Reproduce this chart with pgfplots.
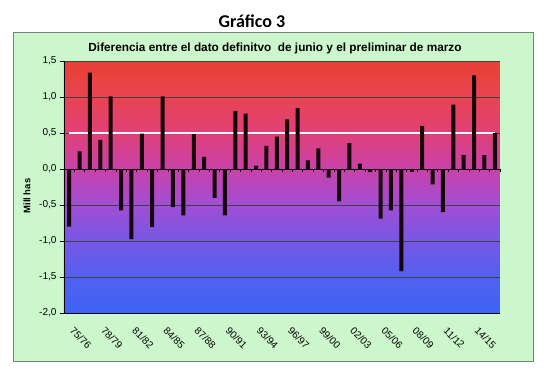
\documentclass[border=0pt]{standalone}
\usepackage{pgfplots}
\pgfplotsset{compat=1.18}
\usepackage{fontspec}
\setmainfont{Liberation Sans}
\newfontfamily\calibri{Carlito}
\definecolor{c0}{RGB}{62,100,245}
\definecolor{c1}{RGB}{82,96,240}
\definecolor{c2}{RGB}{118,88,228}
\definecolor{c3}{RGB}{160,78,212}
\definecolor{c4}{RGB}{200,66,170}
\definecolor{c5}{RGB}{224,64,120}
\definecolor{c6}{RGB}{232,68,82}
\definecolor{c7}{RGB}{232,64,52}
\definecolor{boxgreen}{RGB}{204,246,204}
\definecolor{boxborder}{RGB}{120,132,120}
\definecolor{barcol}{RGB}{22,0,10}
\pgfdeclareverticalshading{plotbg}{100bp}{color(0bp)=(c0); color(25bp)=(c0); color(32.14bp)=(c1); color(39.29bp)=(c2); color(46.43bp)=(c3); color(53.57bp)=(c4); color(60.71bp)=(c5); color(67.86bp)=(c6); color(75bp)=(c7); color(100bp)=(c7)}
\pgfplotstableread{
x y
0 -0.80
1 0.245
2 1.34
3 0.405
4 1.01
5 -0.575
6 -0.975
7 0.49
8 -0.805
9 1.01
10 -0.53
11 -0.645
12 0.485
13 0.167
14 -0.40
15 -0.643
16 0.806
17 0.77
18 0.046
19 0.32
20 0.45
21 0.69
22 0.847
23 0.12
24 0.287
25 -0.12
26 -0.45
27 0.36
28 0.075
29 -0.045
30 -0.69
31 -0.575
32 -1.417
33 -0.04
34 0.60
35 -0.213
36 -0.60
37 0.894
38 0.194
39 1.30
40 0.194
41 0.50
}\datatable
\begin{document}
\begin{tikzpicture}
\fill[white] (0pt,0pt) rectangle (550pt,373pt);
\draw[fill=boxgreen, draw=boxborder, line width=0.8pt] (13pt,12pt) rectangle (533pt,341pt);
\node[font=\calibri\bfseries\fontsize{18}{20}\selectfont] at (252pt,352pt) {Gráfico 3};
\node[font=\bfseries\fontsize{11.8}{14}\selectfont] at (275pt,325pt) {Diferencia entre el dato definitvo\ \ de junio y el preliminar de marzo};
\begin{axis}[
  at={(64pt,60pt)}, anchor=south west,
  scale only axis, width=436pt, height=252pt,
  xmin=-0.5, xmax=41.5, ymin=-2, ymax=1.5,
  axis background/.style={shade, shading=plotbg},
  axis x line*=bottom, axis y line*=left,
  axis line style={black, line width=0.7pt},
  ymajorgrids, major grid style={black!75, line width=0.6pt},
  ytick={-2,-1.5,-1,-0.5,0,0.5,1,1.5},
  yticklabels={{-2,0},{-1,5},{-1,0},{-0,5},{0,0},{0,5},{1,0},{1,5}},
  xtick={0,3,6,9,12,15,18,21,24,27,30,33,36,39},
  xticklabels={75/76,78/79,81/82,84/85,87/88,90/91,93/94,96/97,99/00,02/03,05/06,08/09,11/12,14/15},
  xtick style={draw=none},
  ytick style={black, line width=0.6pt},
  tick align=outside, major tick length=4pt,
  yticklabel style={font=\fontsize{10}{12}\selectfont},
  xticklabel style={font=\fontsize{10}{12}\selectfont, rotate=-45, anchor=north west, xshift=7pt, yshift=0.5pt},
  ylabel={Mill has},
  ylabel style={font=\bfseries\fontsize{9.5}{11}\selectfont, at={(axis description cs:-0.085,0.464)}, anchor=center},
]
\addplot[white, line width=2pt] coordinates {(0,0.5) (41,0.5)};
\addplot[ybar, bar width=4pt, bar shift=0pt, fill=barcol, draw=none] table[x=x, y=y] {\datatable};
\end{axis}
\begin{axis}[
  at={(64pt,60pt)}, anchor=south west,
  scale only axis, width=436pt, height=252pt,
  xmin=-0.5, xmax=41.5, ymin=-2, ymax=1.5,
  axis x line*=middle, axis y line=none,
  xtick={-0.5,0.5,...,41.5}, xticklabels={}, ytick=\empty,
  tick align=outside, major tick length=3pt,
  xtick style={black, line width=0.6pt},
  axis line style={black, line width=0.6pt},
]
\addplot[draw=none] coordinates {(0,0)};
\end{axis}
\end{tikzpicture}
\end{document}
